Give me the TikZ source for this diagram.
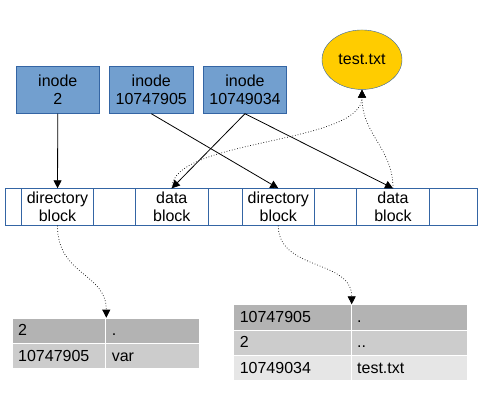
\documentclass[tikz,border=0pt]{standalone}
\usepackage{fontspec}
\setmainfont{Liberation Sans}
\usetikzlibrary{arrows.meta,shapes.geometric}

\definecolor{inodeblue}{HTML}{729FCF}
\definecolor{lineblue}{HTML}{3465A4}
\definecolor{fileyellow}{HTML}{FFCC00}
\definecolor{rowdark}{HTML}{B3B3B3}
\definecolor{rowmid}{HTML}{CCCCCC}
\definecolor{rowlight}{HTML}{E6E6E6}

\begin{document}
\begin{tikzpicture}[x=1pt, y=-1pt,
    font=\fontsize{16}{18.3}\selectfont,
    inode/.style={draw=lineblue, fill=inodeblue, line width=0.8pt, minimum width=83pt, minimum height=47pt, inner sep=0pt, align=center},
    blk/.style={draw=lineblue, line width=0.8pt, minimum height=36.6pt, inner sep=0pt, align=center},
    cell/.style={draw=white, line width=1pt, anchor=north west, minimum height=25.3pt, inner ysep=0pt, inner xsep=6pt, align=left, text height=11.5pt, text depth=1.5pt},
    ptr/.style={-{Triangle[length=8pt,width=8pt]}, line width=0.8pt},
    link/.style={-{Triangle[length=8pt,width=8pt]}, dotted, line width=0.7pt}]
    \useasboundingbox (0,0) rectangle (483,408);

    \node [inode] at (57.8,89.8) (i2) {inode\\2};
    \node [inode, minimum width=84pt] at (151.3,89.8) (i05) {inode\\10747905};
    \node [inode] at (245,89.8) (i34) {inode\\10749034};
    \node [ellipse, draw=lineblue, fill=fileyellow, minimum width=80pt, minimum height=59.5pt, inner sep=0pt] at (362,59.7) (file) {test.txt};

    % disk blocks
    \node [draw=lineblue, line width=0.8pt, minimum width=472pt, minimum height=36.6pt, inner sep=0pt] at (241.7,207) (disk) {};
    \node [blk, minimum width=71.6pt] at (57.5,207) (dir1) {directory\\block};
    \node [blk, minimum width=73pt] at (171.8,207) (dat1) {data\\block};
    \node [blk, minimum width=72pt] at (278.3,207) (dir2) {directory\\block};
    \node [blk, minimum width=72.6pt] at (393,207) (dat2) {data\\block};

    % directory contents
    \node [cell, fill=rowdark, text width=81.6pt] at (11.7,317.7) (t1a) {2};
    \node [cell, fill=rowdark, text width=81.7pt] at (105.3,317.7) (t1b) {.};
    \node [cell, fill=rowmid, text width=81.6pt] at (11.7,343) (t1c) {10747905};
    \node [cell, fill=rowmid, text width=81.7pt] at (105.3,343) (t1d) {var};

    \node [cell, fill=rowdark, text width=105.4pt] at (233.3,304.3) (t2a) {10747905};
    \node [cell, fill=rowdark, text width=104.6pt] at (350.7,304.3) (t2b) {.};
    \node [cell, fill=rowmid, text width=105.4pt] at (233.3,329.6) (t2c) {2};
    \node [cell, fill=rowmid, text width=104.6pt] at (350.7,329.6) (t2d) {..};
    \node [cell, fill=rowlight, text width=105.4pt] at (233.3,354.9) (t2e) {10749034};
    \node [cell, fill=rowlight, text width=104.6pt] at (350.7,354.9) (t2f) {test.txt};

    \draw [ptr] (i2) -- (dir1);
    \draw [ptr] (i05.south) -- (dir2.north);
    \draw [ptr] (i34.south) -- (dat1.north);
    \draw [ptr] (i34.south) -- (dat2.north);

    \draw [link] (dat1.north) .. controls +(0,-50) and +(0,55) .. (file.south);
    \draw [link] (dat2.north) .. controls +(0,-40) and +(0,45) .. (file.south);
    \draw [link] (dir1.south) .. controls +(0,50) and +(0,-45) .. (t1a.north east);
    \draw [link] (dir2.south) .. controls +(0,45) and +(0,-45) .. (t2a.north east);
\end{tikzpicture}
\end{document}
